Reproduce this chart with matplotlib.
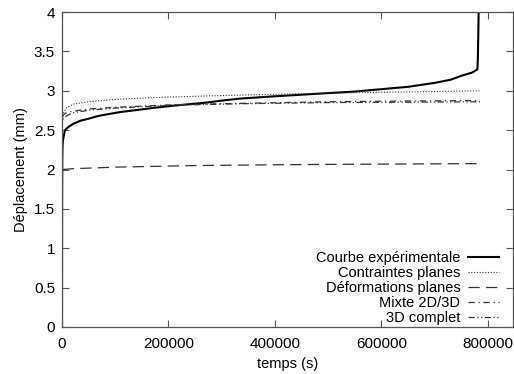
import matplotlib
matplotlib.use("Agg")
import matplotlib.pyplot as plt

plt.rcParams['font.family'] = ['Liberation Sans', 'DejaVu Sans']

# Courbe expérimentale
t_exp = [0, 200, 500, 1000, 2000, 5600, 12000, 21000, 35000, 52600, 68000, 84000,
         110000, 146000, 175000, 209000, 240000, 272000, 300000, 334000, 400000,
         450000, 500000, 550000, 600000, 650000, 700000, 730000, 750000, 770000,
         780000, 781000, 782000, 783000]
y_exp = [0, 1.5, 2.15, 2.30, 2.38, 2.50, 2.54, 2.58, 2.62, 2.65, 2.68, 2.70,
         2.73, 2.76, 2.785, 2.81, 2.83, 2.85, 2.875, 2.90, 2.93,
         2.95, 2.97, 2.99, 3.02, 3.05, 3.10, 3.14, 3.19, 3.23,
         3.27, 3.40, 3.80, 4.20]

# Contraintes planes
t_cp = [0, 300, 1000, 3000, 8000, 21000, 50000, 100000, 146000, 200000, 334000,
        400000, 500000, 600000, 700000, 785000]
y_cp = [0, 2.55, 2.65, 2.72, 2.78, 2.83, 2.86, 2.89, 2.905, 2.92, 2.945,
        2.955, 2.97, 2.98, 2.99, 3.00]

# Déformations planes
t_dp = [0, 300, 2000, 20000, 100000, 250000, 400000, 500000, 650000, 785000]
y_dp = [0, 1.98, 2.00, 2.01, 2.03, 2.05, 2.06, 2.065, 2.07, 2.075]

# Mixte 2D/3D
t_mx = [0, 300, 2000, 8000, 20000, 52600, 100000, 200000, 334000, 500000, 650000, 785000]
y_mx = [0, 2.62, 2.69, 2.72, 2.74, 2.77, 2.79, 2.82, 2.84, 2.86, 2.87, 2.875]

# 3D complet
t_3d = [0, 300, 2000, 8000, 20000, 52600, 100000, 200000, 334000, 500000, 650000, 785000]
y_3d = [0, 2.58, 2.64, 2.68, 2.72, 2.755, 2.78, 2.815, 2.835, 2.85, 2.855, 2.86]

labels = ["Courbe expérimentale", "Contraintes planes", "Déformations planes",
          "Mixte 2D/3D", "3D complet"]
xticks = [0, 200000, 400000, 600000, 800000]
yticks = [0, 0.5, 1, 1.5, 2, 2.5, 3, 3.5, 4]

fig = plt.figure(figsize=(5.14, 3.74), dpi=100)
ax = fig.add_axes([62/514, 1-327/374, (513-62)/514, (327-12)/374])

ax.plot(t_exp, y_exp, color='black', lw=1.5, label=labels[0])
ax.plot(t_cp, y_cp, color='#333333', lw=0.8, linestyle=(0, (1, 1.5)), label=labels[1])
ax.plot(t_dp, y_dp, color='#333333', lw=0.9, linestyle=(0, (9, 5)), label=labels[2])
ax.plot(t_mx, y_mx, color='#333333', lw=0.9, linestyle=(0, (5, 3, 1, 3)), label=labels[3])
ax.plot(t_3d, y_3d, color='#333333', lw=0.9, linestyle=(0, (5, 2, 1, 2, 1, 2)), label=labels[4])

ax.set_xlim(0, 847000)
ax.set_ylim(0, 4)
ax.set_xticks(xticks)
ax.set_xticklabels([str(v) for v in xticks])
ax.set_yticks(yticks)
ax.set_yticklabels([f"{v:g}" for v in yticks])
ax.tick_params(direction='in', top=True, right=True, length=5, width=0.8,
               color='#555555', labelsize=11)
ax.tick_params(axis='x', pad=7.5)
ax.tick_params(axis='y', pad=5)
for s in ax.spines.values():
    s.set_color('#555555')
    s.set_linewidth(0.9)

ax.set_xlabel("temps (s)", fontsize=10.5, labelpad=4)
ax.set_ylabel("Déplacement (mm)", fontsize=10.5, labelpad=4)

leg = ax.legend(loc='lower right', frameon=False, markerfirst=False, fontsize=10.5,
                handlelength=2.1, handletextpad=0.55, labelspacing=0.06,
                borderaxespad=0.0, bbox_to_anchor=(0.982, -0.012))

fig.savefig("out.png", dpi=100)
